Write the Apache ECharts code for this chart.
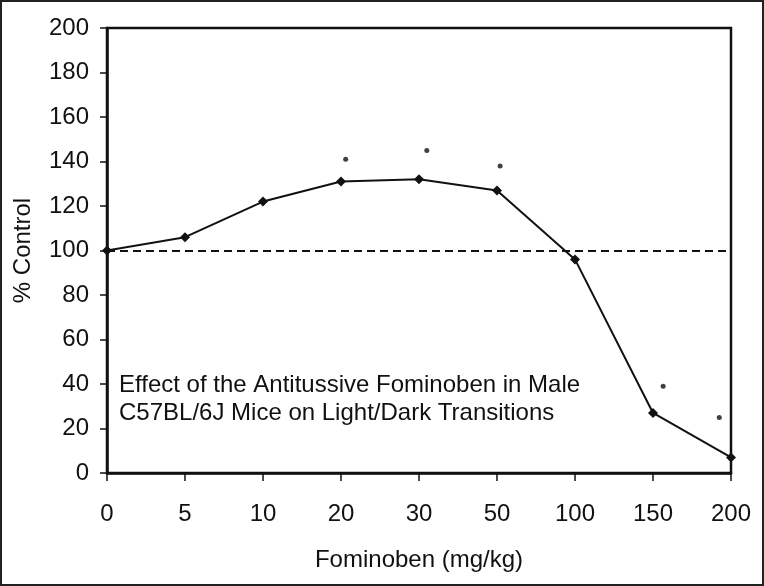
<!DOCTYPE html>
<html>
<head>
<meta charset="utf-8">
<script src="https://cdn.jsdelivr.net/npm/echarts@6/dist/echarts.min.js"></script>
<style>
  html, body { margin: 0; padding: 0; background: #fff; }
  #chart { width: 764px; height: 586px; }
</style>
</head>
<body>
<div id="chart"></div>
<script>
// dose groups (mg/kg) and % of control
const doses = ['0', '5', '10', '20', '30', '50', '100', '150', '200'];
const percentControl = [100, 106, 122, 131, 132, 127, 96, 27, 7];

// significance marks: [position along dose index, height]
const starMarks = [[3.06, 141], [4.1, 145], [5.04, 138], [7.13, 39], [7.85, 25]];

const yTicks = { min: 0, max: 200, step: 20 };
const refLevel = 100;

const chart = echarts.init(document.getElementById('chart'));

const font = 'Liberation Sans, Arial, sans-serif';

const option = {
  backgroundColor: '#fff',
  animation: false,
  grid: {
    left: 107, right: 33, top: 28, bottom: 113,
    show: true, borderColor: '#111', borderWidth: 2.5
  },
  xAxis: [
    {
      type: 'category',
      data: doses,
      boundaryGap: false,
      name: 'Fominoben (mg/kg)',
      nameLocation: 'middle',
      nameGap: 75,
      nameTextStyle: { fontFamily: font, fontSize: 24, color: '#111' },
      axisLine: { lineStyle: { color: '#111', width: 2.5 } },
      axisTick: { length: 8, lineStyle: { color: '#111', width: 1.5 } },
      axisLabel: { margin: 29, fontFamily: font, fontSize: 24, color: '#111' },
      splitLine: { show: false }
    },
    {
      type: 'value',
      min: 0, max: doses.length - 1,
      show: false
    }
  ],
  yAxis: {
    type: 'value',
    min: yTicks.min, max: yTicks.max, interval: yTicks.step,
    name: '% Control',
    nameLocation: 'middle',
    nameGap: 72,
    nameTextStyle: { fontFamily: font, fontSize: 24, color: '#111' },
    axisLine: { show: true, lineStyle: { color: '#111', width: 2.5 } },
    axisTick: { show: true, length: 7, lineStyle: { color: '#111', width: 1.5 } },
    axisLabel: { margin: 18, fontFamily: font, fontSize: 24, color: '#111' },
    splitLine: { show: false }
  },
  series: [
    {
      type: 'line',
      data: percentControl,
      symbol: 'diamond',
      symbolSize: 10,
      itemStyle: { color: '#111' },
      lineStyle: { color: '#111', width: 2 },
      markLine: {
        silent: true,
        symbol: 'none',
        label: { show: false },
        lineStyle: { color: '#111', width: 2, type: [8, 5] },
        data: [{ yAxis: refLevel }]
      }
    },
    {
      type: 'scatter',
      xAxisIndex: 1,
      data: starMarks,
      symbol: 'circle',
      symbolSize: 5,
      itemStyle: { color: '#111' }
    }
  ],
  graphic: [
    {
      type: 'text',
      left: 119, top: 371,
      style: {
        text: 'Effect of the Antitussive Fominoben in Male\nC57BL/6J Mice on Light/Dark Transitions',
        fontFamily: font, fontSize: 24, lineHeight: 28, fill: '#111'
      }
    },
    {
      type: 'rect',
      shape: { x: 1, y: 1, width: 762, height: 584 },
      style: { fill: 'none', stroke: '#222', lineWidth: 2 }
    }
  ]
};

chart.setOption(option);
</script>
</body>
</html>
